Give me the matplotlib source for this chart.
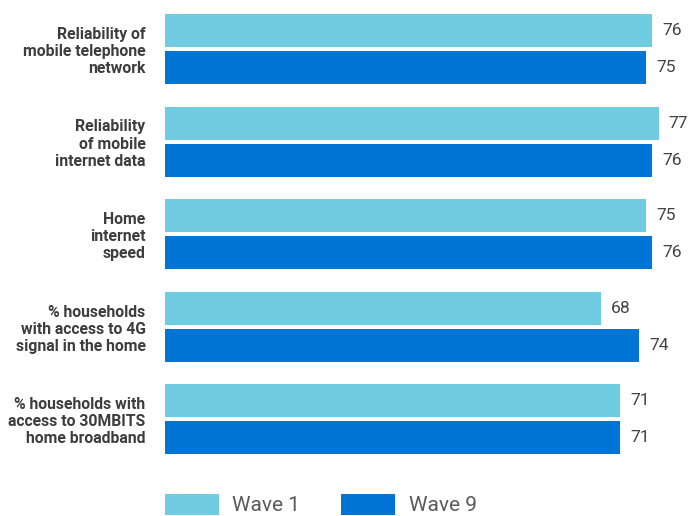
import matplotlib
matplotlib.use("Agg")
import matplotlib.pyplot as plt
from matplotlib.patches import Patch
import numpy as np

categories = [
    "Reliability of\nmobile telephone\nnetwork",
    "Reliability\nof mobile\ninternet data",
    "Home\ninternet\nspeed",
    "% households\nwith access to 4G\nsignal in the home",
    "% households with\naccess to 30MBITS\nhome broadband",
]
wave1 = [76, 77, 75, 68, 71]
wave9 = [75, 76, 76, 74, 71]
series_names = ["Wave 1", "Wave 9"]
colors = ["#70CCE0", "#0075D5"]

plt.rcParams["font.family"] = ["Roboto", "DejaVu Sans"]

W, H = 693, 516
fig = plt.figure(figsize=(W / 100, H / 100), dpi=100)
ax = fig.add_axes([165 / W, 46 / H, 1 - 165 / W, 1 - 46 / H])

y = np.arange(len(categories))
h = 0.357
off = 0.2
for vals, dy, c in [(wave1, -off, colors[0]), (wave9, off, colors[1])]:
    bars = ax.barh(y + dy, vals, height=h, color=c)
    for b, v in zip(bars, vals):
        ax.text(v + 1.6, b.get_y() + b.get_height() / 2, str(v),
                va="center", ha="left", fontsize=12.6, color="#444444")

ax.set_xlim(0, (W - 165) / 6.41)
ax.set_ylim(4.55, -0.53)
ax.set_yticks(y)
ax.set_yticklabels(categories, fontsize=11.3, fontweight="bold", color="#3d3d3d",
                   linespacing=1.18)
ax.tick_params(axis="y", length=0, pad=14)
ax.set_xticks([])
for s in ax.spines.values():
    s.set_visible(False)

handles = [Patch(facecolor=colors[0]), Patch(facecolor=colors[1])]
fig.legend(handles, series_names, loc="lower left", bbox_to_anchor=(146 / W, -18 / H),
           ncol=2, frameon=False, fontsize=15, handlelength=2.6, handleheight=1.2,
           handletextpad=0.65, columnspacing=1.95, labelcolor="#5a5a5a")

fig.savefig("out.png", dpi=100)
